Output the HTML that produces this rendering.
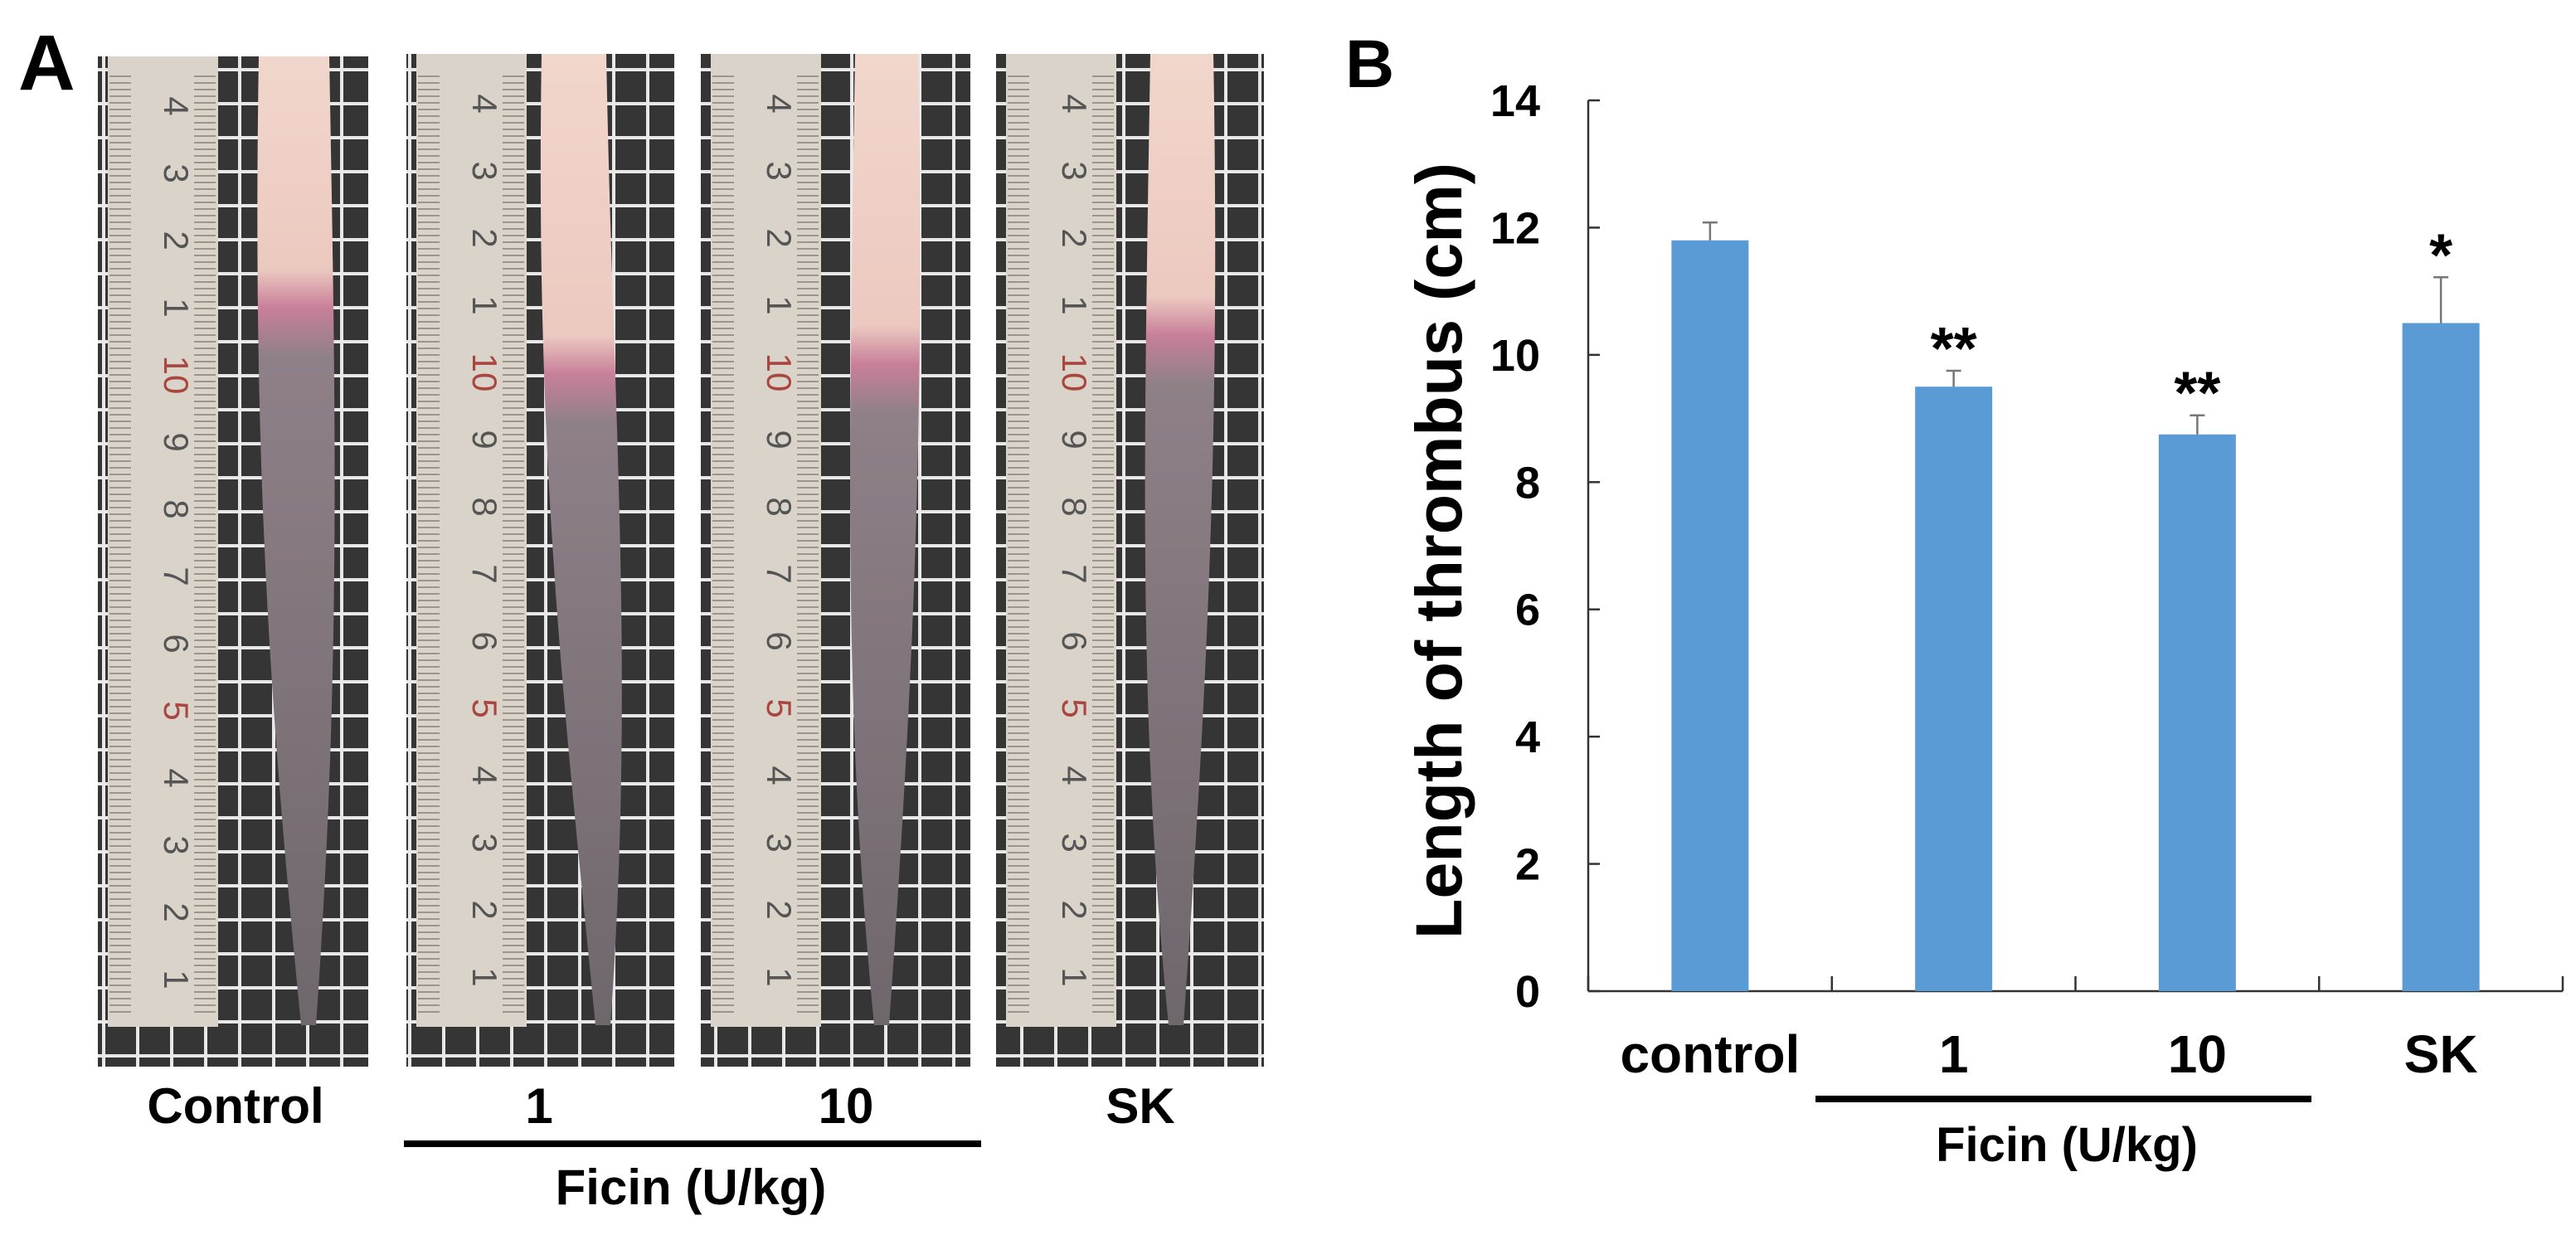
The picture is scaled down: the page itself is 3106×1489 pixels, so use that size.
<!DOCTYPE html>
<html><head><meta charset="utf-8"><style>
html,body{margin:0;padding:0;background:#fff;}
svg{display:block;font-family:"Liberation Sans",Arial,sans-serif;}
</style></head><body>
<svg id="fig" width="3106" height="1489" viewBox="0 0 3106 1489" xmlns="http://www.w3.org/2000/svg">
<defs>
<pattern id="grid" x="0" y="0" width="41" height="41" patternUnits="userSpaceOnUse">
<rect width="41" height="41" fill="#353535"/>
<rect x="0" y="0" width="41" height="4" fill="#e8e8e8"/>
<rect x="0" y="0" width="4" height="41" fill="#e8e8e8"/>
</pattern>
<pattern id="rtick" x="0" y="0" width="8" height="8" patternUnits="userSpaceOnUse">
<rect width="8" height="8" fill="#d9d3c9"/>
<rect x="0" y="3" width="8" height="2" fill="#9c958c"/>
</pattern>
</defs>
<text x="22" y="108" font-size="95" font-weight="bold" fill="#000">A</text>
<g id="photos"></g>
<text x="284" y="1354" font-size="60" font-weight="bold" text-anchor="middle">Control</text>
<text x="650" y="1354" font-size="60" font-weight="bold" text-anchor="middle">1</text>
<text x="1020" y="1354" font-size="60" font-weight="bold" text-anchor="middle">10</text>
<text x="1375" y="1354" font-size="60" font-weight="bold" text-anchor="middle">SK</text>
<rect x="487" y="1375" width="696" height="8" fill="#000"/>
<text x="833" y="1452" font-size="60" font-weight="bold" text-anchor="middle">Ficin (U/kg)</text>

<text x="1622" y="105" font-size="82" font-weight="bold">B</text>
<g id="chart"></g>
</svg>
<script>
// ---- chart data ----
const categories = ["control", "1", "10", "SK"];
const values = [11.8, 9.5, 8.75, 10.5];
const errors = [0.28, 0.25, 0.3, 0.72];
const stars = ["", "**", "**", "*"];
const yTicks = [0, 2, 4, 6, 8, 10, 12, 14];

const NS = "http://www.w3.org/2000/svg";
function mk(tag, attrs, parent) {
  const e = document.createElementNS(NS, tag);
  for (const k in attrs) e.setAttribute(k, attrs[k]);
  parent.appendChild(e);
  return e;
}
const X0 = 1915, X1 = 3090, Y0 = 1195, Y1 = 121, YMAX = 14;
const yS = v => Y0 - (v / YMAX) * (Y0 - Y1);
const gw = (X1 - X0) / categories.length;
const xC = i => X0 + gw * (i + 0.5);
const BW = 93;

const chart = document.getElementById("chart");
const ya = mk("line", {x1: X0, y1: Y1, x2: X0, y2: Y0, stroke: "#333", "stroke-width": 2.5}, chart);


const xa = mk("line", {x1: X0, y1: Y0, x2: X1, y2: Y0, stroke: "#333", "stroke-width": 2.5}, chart);


yTicks.forEach(t => {
  const y = yS(t);
  const tk = mk("line", {x1: X0, y1: y, x2: X0 + 14, y2: y, stroke: "#333", "stroke-width": 2.5}, chart);
  
  
  const tl = mk("text", {x: 1857, y: y + 19, "font-size": 54, "font-weight": "bold", "text-anchor": "end"}, chart);
  tl.textContent = t;
  
  
});
for (let i = 0; i <= categories.length; i++) {
  const x = X0 + gw * i;
  const tk = mk("line", {x1: x, y1: Y0, x2: x, y2: Y0 - 18, stroke: "#333", "stroke-width": 2.5}, chart);
  
  
}
categories.forEach((c, i) => {
  const cx = xC(i);
  const top = yS(values[i]);
  const b = mk("rect", {x: cx - BW / 2, y: top, width: BW, height: Y0 - top, fill: "#5b9bd5"}, chart);
  
  
  const ey = yS(values[i] + errors[i]);
  const el = mk("path", {d: `M${cx} ${top}V${ey}M${cx - 9} ${ey}H${cx + 9}`, stroke: "#777", "stroke-width": 2.5, fill: "none"}, chart);
  
  
  if (stars[i]) {
    const s = mk("text", {x: cx, y: ey - 2, "font-size": 72, "font-weight": "bold", "text-anchor": "middle"}, chart);
    s.textContent = stars[i];
    
    
  }
  const l = mk("text", {x: cx, y: 1293, "font-size": 64, "font-weight": "bold", "text-anchor": "middle"}, chart);
  l.textContent = c;
  
  
});
const br = mk("rect", {x: 2189, y: 1321, width: 598, height: 8, fill: "#000"}, chart);


const fl = mk("text", {x: 2492, y: 1400, "font-size": 58, "font-weight": "bold", "text-anchor": "middle"}, chart);
fl.textContent = "Ficin (U/kg)";


const yt = mk("text", {x: 0, y: 0, "font-size": 79, "font-weight": "bold", "text-anchor": "middle", transform: "translate(1762,664) rotate(-90)", textLength: 936, lengthAdjust: "spacingAndGlyphs"}, chart);
yt.textContent = "Length of thrombus (cm)";



// ---- photos (illustrative) ----
const photos = document.getElementById("photos");
const panels = [
  {x: 118, y: 68, w: 326, h: 1218, tl: 194, tr: 279, tip: 253, j: 0.28, name: "control"},
  {x: 490, y: 65, w: 323, h: 1221, tl: 163, tr: 241, tip: 236, j: 0.35, name: "ficin-1"},
  {x: 845, y: 65, w: 325, h: 1221, tl: 186, tr: 262, tip: 217, j: 0.34, name: "ficin-10"},
  {x: 1201, y: 65, w: 323, h: 1221, tl: 186, tr: 262, tip: 216, j: 0.31, name: "sk"}
];
const rulerNums = ["4","3","2","1","10","9","8","7","6","5","4","3","2","1"];
panels.forEach((p, k) => {
  const g = mk("g", {}, photos);
  
  
  mk("rect", {x: p.x, y: p.y, width: p.w, height: p.h, fill: "url(#grid)"}, g);
  mk("rect", {x: p.x + 12, y: p.y, width: 133, height: p.h - 48, fill: "#d9d3c9"}, g);
  mk("rect", {x: p.x + 14, y: p.y + 20, width: 26, height: p.h - 80, fill: "url(#rtick)"}, g);
  mk("rect", {x: p.x + 116, y: p.y + 20, width: 26, height: p.h - 80, fill: "url(#rtick)"}, g);
  rulerNums.forEach((n, i) => {
    const ny = p.y + 60 + i * 81;
    const t = mk("text", {x: 0, y: 0, "font-size": 42, fill: (n === "10" || (n === "5" && i > 4)) ? "#a9463f" : "#555", "text-anchor": "middle", transform: `translate(${p.x + 80},${ny}) rotate(90)`}, g);
    t.textContent = n;
  });
  const gid = "tg" + k;
  const lg = mk("linearGradient", {id: gid, x1: 0, y1: 0, x2: 0, y2: 1}, g);
  mk("stop", {offset: 0, "stop-color": "#f1d6cc"}, lg);
  mk("stop", {offset: p.j - 0.06, "stop-color": "#ecc9c0"}, lg);
  mk("stop", {offset: p.j - 0.02, "stop-color": "#c87f9a"}, lg);
  mk("stop", {offset: p.j + 0.03, "stop-color": "#8f8088"}, lg);
  mk("stop", {offset: 1, "stop-color": "#6e676c"}, lg);
  const top = p.y, bot = p.y + p.h - 50, mid = top + (bot - top) * 0.55;
  const d = `M${p.x + p.tl} ${top} L${p.x + p.tr} ${top} C${p.x + p.tr + 8} ${mid - 200} ${p.x + p.tip + 40} ${mid + 100} ${p.x + p.tip + 10} ${bot} L${p.x + p.tip - 8} ${bot} C${p.x + p.tip - 45} ${mid + 150} ${p.x + p.tl - 8} ${mid - 150} ${p.x + p.tl} ${top} Z`;
  mk("path", {d: d, fill: `url(#${gid})`}, g);
});
</script>
</body></html>
